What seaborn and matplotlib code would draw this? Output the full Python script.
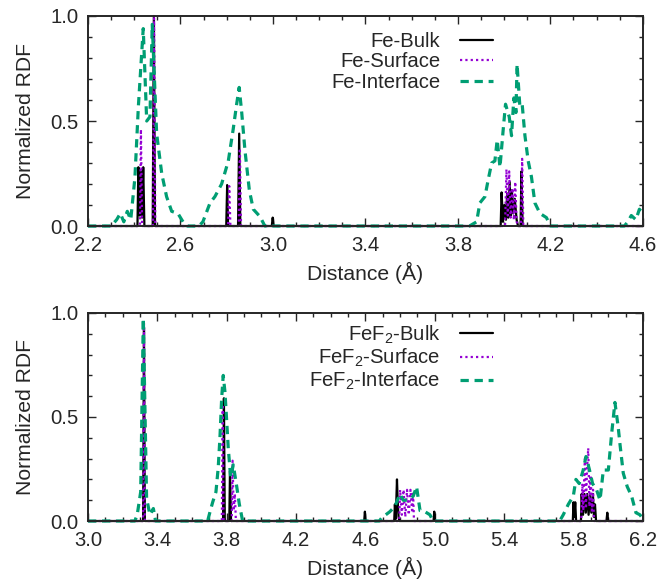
import matplotlib
matplotlib.use("Agg")
import matplotlib.pyplot as plt
import pandas as pd
import seaborn as sns
from matplotlib.ticker import FixedLocator, MultipleLocator

# ---- top panel: Fe RDF ----
fe_bulk_x = [2.20, 2.414, 2.418, 2.424, 2.430, 2.434, 2.439, 2.444, 2.480, 2.485, 2.490,
             2.798, 2.802, 2.806, 2.849, 2.854, 2.859, 2.995, 2.999, 3.003,
             3.985, 3.989, 3.995, 4.001, 4.008, 4.013, 4.018, 4.024, 4.028, 4.033,
             4.039, 4.046, 4.054, 4.060, 4.071, 4.075, 4.080, 4.60]
fe_bulk_y = [0, 0, 0.28, 0.05, 0.26, 0.04, 0.28, 0, 0, 1.0, 0,
             0, 0.195, 0, 0, 0.44, 0, 0, 0.04, 0,
             0, 0.16, 0.02, 0.10, 0.03, 0.155, 0.04, 0.21, 0.05, 0.17,
             0.06, 0.13, 0.03, 0, 0, 0.26, 0, 0]

fe_surface_x = [2.20, 2.425, 2.429, 2.434, 2.481, 2.486, 2.491,
                2.806, 2.811, 2.816, 2.852, 2.857, 2.862,
                4.004, 4.010, 4.016, 4.022, 4.028, 4.036, 4.042, 4.048, 4.054, 4.062,
                4.073, 4.078, 4.083, 4.60]
fe_surface_y = [0, 0, 0.46, 0, 0, 0.99, 0,
                0, 0.19, 0, 0, 0.37, 0,
                0, 0.27, 0.05, 0.26, 0.04, 0.18, 0.03, 0.21, 0.02, 0,
                0, 0.32, 0, 0]

fe_interface_x = [2.20, 2.30, 2.324, 2.34, 2.355, 2.37, 2.385, 2.403, 2.418, 2.439,
                  2.454, 2.468, 2.478, 2.497, 2.519, 2.540, 2.562, 2.589, 2.611, 2.630,
                  2.680, 2.697, 2.728, 2.749, 2.778, 2.807, 2.828, 2.843, 2.854, 2.865,
                  2.879, 2.898, 2.915, 2.944, 2.965,
                  3.85, 3.881, 3.895, 3.917, 3.931, 3.946, 3.960, 3.970, 3.982, 3.996,
                  4.006, 4.022, 4.032, 4.042, 4.051, 4.056, 4.068, 4.078, 4.090, 4.104,
                  4.118, 4.133, 4.155, 4.183, 4.20,
                  4.52, 4.535, 4.55, 4.57, 4.585, 4.60]
fe_interface_y = [0, 0, 0.03, 0.06, 0.02, 0.07, 0.03, 0.23, 0.57, 0.94,
                  0.50, 0.52, 0.96, 0.44, 0.25, 0.14, 0.07, 0.06, 0.02, 0,
                  0, 0.02, 0.11, 0.14, 0.20, 0.31, 0.46, 0.58, 0.66, 0.54,
                  0.36, 0.17, 0.08, 0.045, 0,
                  0, 0.02, 0.11, 0.14, 0.22, 0.30, 0.31, 0.41, 0.28, 0.46,
                  0.58, 0.52, 0.43, 0.61, 0.54, 0.77, 0.57, 0.58, 0.43, 0.31,
                  0.235, 0.11, 0.06, 0.04, 0,
                  0, 0.02, 0.05, 0.03, 0.08, 0.06]

# ---- bottom panel: FeF2 RDF ----
fef2_bulk_x = [3.00, 3.318, 3.323, 3.328, 3.779, 3.784, 3.789, 3.815, 3.819, 3.825,
               4.593, 4.597, 4.601, 4.766, 4.770, 4.775, 4.782, 4.786, 4.791, 4.796,
               4.993, 4.997, 5.001,
               5.796, 5.800, 5.805, 5.810, 5.815, 5.843, 5.847, 5.855, 5.863, 5.871,
               5.879, 5.887, 5.895, 5.903, 5.912, 5.918, 5.924, 5.930,
               5.990, 5.995, 6.000, 6.20]
fef2_bulk_y = [0, 0, 0.93, 0, 0, 0.59, 0, 0, 0.24, 0,
               0, 0.045, 0, 0, 0.08, 0.01, 0.20, 0.10, 0.02, 0,
               0, 0.045, 0,
               0, 0.09, 0.02, 0.09, 0, 0, 0.13, 0.03, 0.13, 0.04,
               0.13, 0.03, 0.12, 0.04, 0.13, 0.02, 0.08, 0,
               0, 0.04, 0, 0]

fef2_surface_x = [3.00, 3.318, 3.323, 3.328, 3.772, 3.777, 3.782,
                  3.829, 3.834, 3.840, 3.847, 3.853,
                  4.795, 4.800, 4.810, 4.820, 4.830, 4.840, 4.850, 4.860, 4.870, 4.875, 4.880,
                  5.845, 5.851, 5.857, 5.862, 5.866, 5.872, 5.878, 5.885, 5.892, 5.899,
                  5.906, 5.913, 5.918, 6.20]
fef2_surface_y = [0, 0, 0.95, 0, 0, 0.56, 0,
                  0, 0.29, 0.05, 0.13, 0,
                  0, 0.15, 0.03, 0.15, 0.02, 0.15, 0.03, 0.15, 0.04, 0.14, 0,
                  0, 0.18, 0.05, 0.22, 0.30, 0.06, 0.25, 0.35, 0.07, 0.22,
                  0.05, 0.15, 0, 0]

fef2_interface_x = [3.00, 3.27, 3.284, 3.304, 3.319, 3.338, 3.357, 3.377, 3.39,
                    3.69, 3.704, 3.719, 3.738, 3.751, 3.761, 3.771, 3.780, 3.790, 3.800,
                    3.809, 3.823, 3.838, 3.857, 3.873, 3.892,
                    4.68, 4.694, 4.741, 4.770, 4.799, 4.818, 4.847, 4.876, 4.895, 4.915,
                    4.943, 4.972, 4.99,
                    5.72, 5.741, 5.770, 5.799, 5.814, 5.833, 5.856, 5.872, 5.891, 5.910,
                    5.933, 5.953, 5.972, 6.001, 6.020, 6.039, 6.058, 6.068, 6.087, 6.110,
                    6.135, 6.160, 6.183, 6.20]
fef2_interface_y = [0, 0, 0.03, 0.14, 0.975, 0.11, 0.03, 0.06, 0,
                    0, 0.045, 0.09, 0.14, 0.255, 0.40, 0.59, 0.70, 0.62, 0.48,
                    0.35, 0.21, 0.27, 0.17, 0.08, 0,
                    0, 0.015, 0.045, 0.07, 0.13, 0.10, 0.10, 0.12, 0.165, 0.05,
                    0.045, 0.03, 0,
                    0, 0.03, 0.08, 0.12, 0.20, 0.18, 0.245, 0.31, 0.25, 0.18,
                    0.15, 0.10, 0.245, 0.245, 0.42, 0.57, 0.45, 0.37, 0.23, 0.165,
                    0.12, 0.04, 0.03, 0.01]

top_xticks = [2.2, 2.6, 3.0, 3.4, 3.8, 4.2, 4.6]
bottom_xticks = [3.0, 3.4, 3.8, 4.2, 4.6, 5.0, 5.4, 5.8, 6.2]
yticks = [0.0, 0.5, 1.0]

sns.set_style("ticks")
plt.rcParams["font.family"] = ["Liberation Sans", "DejaVu Sans"]
plt.rcParams["mathtext.fontset"] = "custom"
plt.rcParams["mathtext.rm"] = "Liberation Sans"
plt.rcParams["mathtext.it"] = "Liberation Sans:italic"
FS = 14.6

BLACK = "#000000"
PURPLE = "#9400D3"
GREEN = "#009E73"


def draw_panel(ax, series, xticks, legend_top, spacing):
    styles = [
        dict(color=BLACK, lw=1.6, ls="-"),
        dict(color=PURPLE, lw=1.6, ls=(0, (1, 1.4))),
        dict(color=GREEN, lw=2.3, ls=(0, (2.6, 1.8))),
    ]
    for (label, xs, ys), st in zip(series, styles):
        df = pd.DataFrame({"x": xs, "y": ys})
        sns.lineplot(data=df, x="x", y="y", ax=ax, estimator=None, sort=False,
                     label=label, color=st["color"], linewidth=st["lw"],
                     linestyle=st["ls"], clip_on=False)
    ax.set_xlim(xticks[0], xticks[-1])
    ax.set_ylim(0, 1.0)
    ax.xaxis.set_major_locator(FixedLocator(xticks))
    ax.xaxis.set_minor_locator(MultipleLocator(0.1))
    ax.yaxis.set_major_locator(FixedLocator(yticks))
    ax.yaxis.set_minor_locator(MultipleLocator(0.1))
    ax.xaxis.set_major_formatter(lambda v, p: f"{v:.1f}")
    ax.yaxis.set_major_formatter(lambda v, p: f"{v:.1f}")
    ax.tick_params(which="both", direction="in", top=True, right=True,
                   labelsize=FS, width=1.0)
    ax.tick_params(which="major", length=6, pad=7)
    ax.tick_params(which="minor", length=3)
    for s in ax.spines.values():
        s.set_linewidth(1.4)
    ax.set_xlabel("Distance (Å)", fontsize=FS + 0.6, labelpad=5)
    ax.set_ylabel("Normalized RDF", fontsize=FS + 0.6, labelpad=11)
    ax.legend(loc="upper right", bbox_to_anchor=(0.73, legend_top),
              frameon=False, fontsize=FS, markerfirst=False,
              handlelength=1.65, handletextpad=0.95, labelspacing=spacing,
              borderpad=0, borderaxespad=0)


fig = plt.figure(figsize=(6.59, 5.86), dpi=100)
ax1 = fig.add_axes([0.1335, 0.6143, 0.842, 0.3584])
ax2 = fig.add_axes([0.1335, 0.1109, 0.842, 0.355])

draw_panel(ax1, [("Fe-Bulk", fe_bulk_x, fe_bulk_y),
                 ("Fe-Surface", fe_surface_x, fe_surface_y),
                 ("Fe-Interface", fe_interface_x, fe_interface_y)],
           top_xticks, 0.925, 0.08)
draw_panel(ax2, [("FeF$_2$-Bulk", fef2_bulk_x, fef2_bulk_y),
                 ("FeF$_2$-Surface", fef2_surface_x, fef2_surface_y),
                 ("FeF$_2$-Interface", fef2_interface_x, fef2_interface_y)],
           bottom_xticks, 0.95, 0.05)

fig.savefig("out.png", dpi=100)
